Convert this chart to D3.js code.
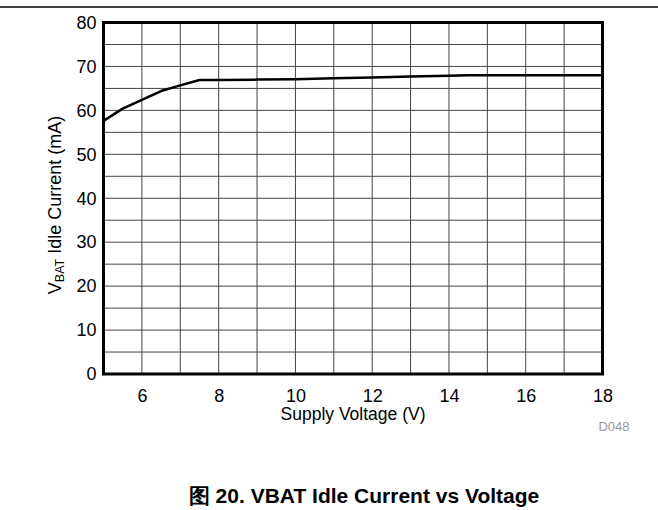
<!DOCTYPE html>
<html>
<head>
<meta charset="utf-8">
<style>
  body { margin: 0; background: #fff; }
  svg text { font-family: "Liberation Sans", Arial, sans-serif; }
</style>
</head>
<body>
<script src="https://d3js.org/d3.v7.min.js"></script>
<div id="chart"></div>
<script>
    const width = 658
    const height = 510

    // supply voltage (V) and idle current (mA)
    const voltage = [5, 5.5, 6, 6.5, 7, 7.5, 8, 9, 10, 11, 12, 13, 14, 14.5, 16, 18]
    const current = [57.6, 60.4, 62.4, 64.4, 65.7, 66.9, 66.9, 67.0, 67.1, 67.3, 67.5, 67.7, 67.9, 68.0, 68.0, 68.0]
    const xTicks = [6, 8, 10, 12, 14, 16, 18]
    const yTicks = [0, 10, 20, 30, 40, 50, 60, 70, 80]

    const plotLeft = 103.5, plotRight = 602.5, plotTop = 22.5, plotBottom = 374

    const svg = d3.select("#chart").append("svg")
        .attr("width", width).attr("height", height)

    // rule across top of page
    svg.append("line")
        .attr("x1", 0).attr("x2", width).attr("y1", 7).attr("y2", 7)
        .attr("stroke", "#000").attr("stroke-width", 1.5)

    const xScale = d3.scaleLinear().domain([5, 18]).range([plotLeft, plotRight])
    const yScale = d3.scaleLinear().domain([0, 80]).range([plotBottom, plotTop])

    // grid
    svg.append("g").selectAll("line")
        .data(d3.range(6, 18, 1))
        .enter().append("line")
        .attr("x1", d => xScale(d)).attr("x2", d => xScale(d))
        .attr("y1", plotTop).attr("y2", plotBottom)
        .attr("stroke", "#444").attr("stroke-width", 1)
    svg.append("g").selectAll("line")
        .data(d3.range(5, 80, 5))
        .enter().append("line")
        .attr("x1", plotLeft).attr("x2", plotRight)
        .attr("y1", d => yScale(d)).attr("y2", d => yScale(d))
        .attr("stroke", "#444").attr("stroke-width", 1)

    // axes (labels only)
    const xAxis = d3.axisBottom(xScale).tickValues(xTicks).tickSize(0).tickPadding(15)
    const yAxis = d3.axisLeft(yScale).tickValues(yTicks).tickSize(0).tickPadding(7)
    const gx = svg.append("g").attr("transform", "translate(0," + plotBottom + ")").call(xAxis)
    const gy = svg.append("g").attr("transform", "translate(" + plotLeft + ",0)").call(yAxis)
    gx.select(".domain").remove()
    gy.select(".domain").remove()
    svg.selectAll(".tick text")
        .attr("font-family", "'Liberation Sans', Arial, sans-serif")
        .attr("font-size", 18).attr("fill", "#000")

    // curve
    const line = d3.line()
        .x((d, i) => xScale(voltage[i]))
        .y(d => yScale(d))
    svg.append("path")
        .datum(current)
        .attr("d", line)
        .attr("fill", "none")
        .attr("stroke", "#000")
        .attr("stroke-width", 2.5)
        .attr("stroke-linejoin", "round")

    // frame
    svg.append("rect")
        .attr("x", plotLeft).attr("y", plotTop)
        .attr("width", plotRight - plotLeft).attr("height", plotBottom - plotTop)
        .attr("fill", "none").attr("stroke", "#000").attr("stroke-width", 3)

    // axis titles
    svg.append("text")
        .attr("x", (plotLeft + plotRight) / 2).attr("y", 420)
        .attr("text-anchor", "middle").attr("font-size", 17.5)
        .text("Supply Voltage (V)")

    const yt = svg.append("text")
        .attr("transform", "translate(61,205) rotate(-90)")
        .attr("text-anchor", "middle").attr("font-size", 18)
    yt.append("tspan").text("V")
    yt.append("tspan").attr("font-size", 12.5).attr("dy", 3).text("BAT")
    yt.append("tspan").attr("dy", -3).text(" Idle Current (mA)")

    svg.append("text")
        .attr("x", 614).attr("y", 431)
        .attr("text-anchor", "middle").attr("font-size", 13).attr("fill", "#999")
        .text("D048")

    svg.append("text")
        .attr("x", 364).attr("y", 503)
        .attr("text-anchor", "middle").attr("font-size", 21).attr("font-weight", "bold")
        .attr("font-family", "'Liberation Sans', 'Noto Sans CJK SC', Arial, sans-serif")
        .text("图 20. VBAT Idle Current vs Voltage")
</script>
</body>
</html>
